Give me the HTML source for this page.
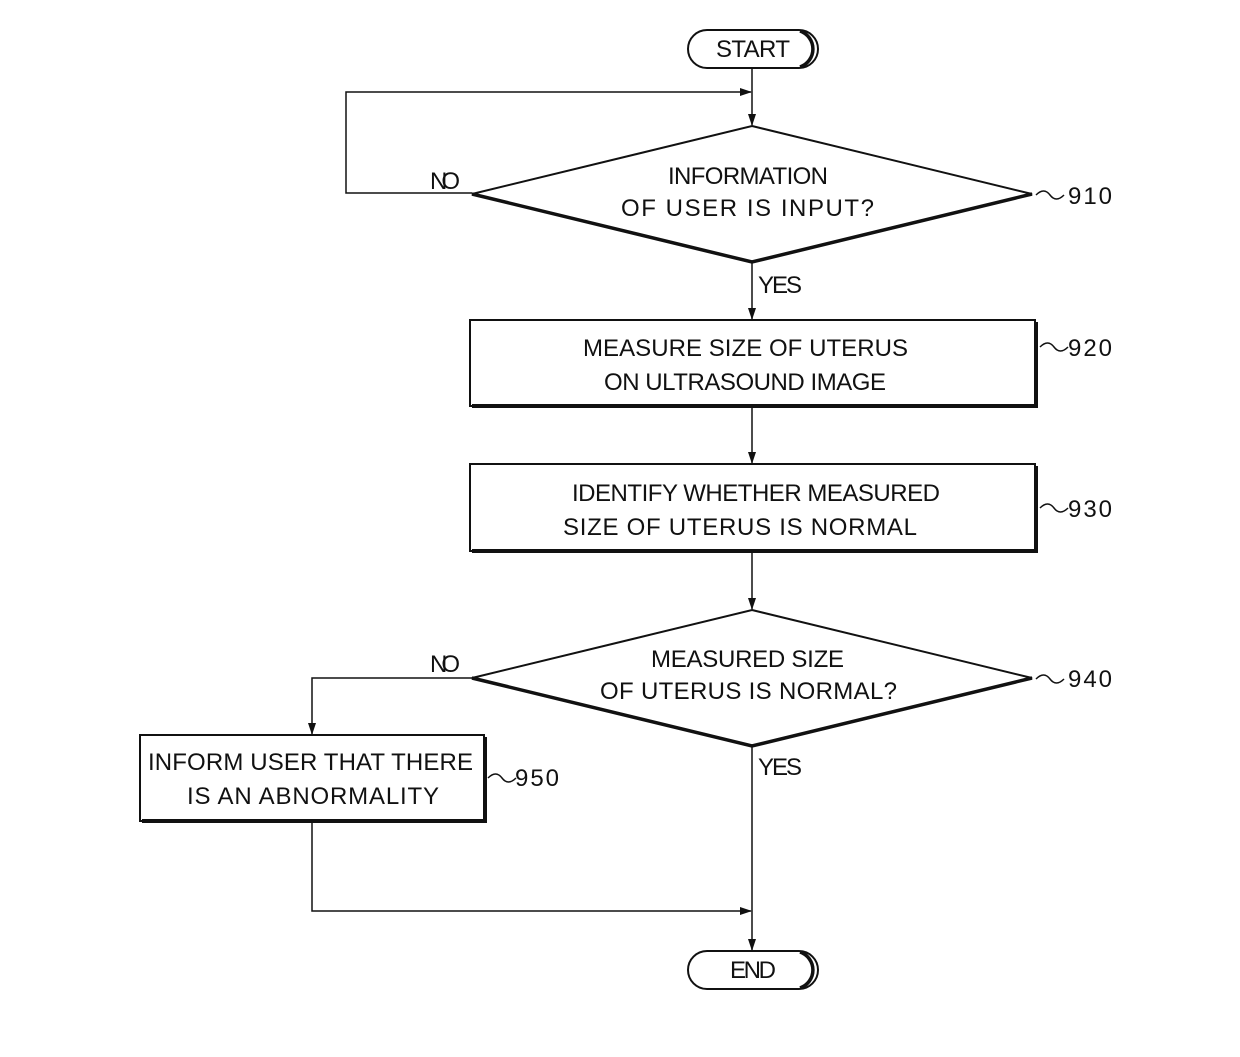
<!DOCTYPE html>
<html><head><meta charset="utf-8"><style>html,body{margin:0;padding:0;background:#fff}svg{display:block}text{font-family:"Liberation Sans",sans-serif;font-size:24px;fill:#111}</style></head>
<body>
<svg width="1240" height="1057" viewBox="0 0 1240 1057" xmlns="http://www.w3.org/2000/svg">
<defs><marker id="a" markerWidth="12" markerHeight="8" refX="11" refY="4" orient="auto" markerUnits="userSpaceOnUse"><path d="M0,0 L12,4 L0,8 z" fill="#111"/></marker></defs>
<g stroke="#111" fill="none" stroke-width="1.5">
<!-- START -->
<rect x="688" y="30" width="130" height="38" rx="19" stroke-width="2"/>
<path d="M800,31 A19,19 0 0 1 800,67" stroke-width="3.5"/>
<line x1="752" y1="68" x2="752" y2="125" marker-end="url(#a)"/>
<polyline points="472,193 346,193 346,92 751,92" marker-end="url(#a)"/>
<!-- diamond 910 -->
<polygon points="752,126 1032,194 752,262 472,194" stroke-width="2"/>
<path d="M472,194 L752,262 L1032,194" stroke-width="3.5"/>
<path d="M1036,195 q8,-8 14,0 t14,0"/>
<line x1="752" y1="262" x2="752" y2="319" marker-end="url(#a)"/>
<!-- box 920 -->
<rect x="470" y="320" width="565" height="86" stroke-width="2"/>
<path d="M472,406 L1036,406 L1036,322" stroke-width="4"/>
<path d="M1040,347 q8,-8 14,0 t14,0"/>
<line x1="752" y1="408" x2="752" y2="463" marker-end="url(#a)"/>
<!-- box 930 -->
<rect x="470" y="464" width="565" height="87" stroke-width="2"/>
<path d="M472,551 L1036,551 L1036,466" stroke-width="4"/>
<path d="M1040,508 q8,-8 14,0 t14,0"/>
<line x1="752" y1="553" x2="752" y2="609" marker-end="url(#a)"/>
<!-- diamond 940 -->
<polygon points="752,610 1032,678 752,746 472,678" stroke-width="2"/>
<path d="M472,678 L752,746 L1032,678" stroke-width="3.5"/>
<path d="M1036,679 q8,-8 14,0 t14,0"/>
<polyline points="472,678 312,678 312,734" marker-end="url(#a)"/>
<!-- box 950 -->
<rect x="140" y="735" width="344" height="86" stroke-width="2"/>
<path d="M142,821 L485,821 L485,737" stroke-width="4"/>
<path d="M488,778 q8,-8 14,0 t14,0"/>
<polyline points="312,823 312,911 751,911" marker-end="url(#a)"/>
<line x1="752" y1="746" x2="752" y2="950" marker-end="url(#a)"/>
<!-- END -->
<rect x="688" y="951" width="130" height="38" rx="19" stroke-width="2"/>
<path d="M800,952 A19,19 0 0 1 800,988" stroke-width="3.5"/>
</g>
<text x="753" y="57" text-anchor="middle" textLength="74">START</text>
<text x="753" y="978" text-anchor="middle" textLength="46">END</text>
<text x="430" y="189" textLength="30">NO</text>
<text x="668" y="184" textLength="160">INFORMATION</text>
<text x="621" y="216" textLength="253">OF USER IS INPUT?</text>
<text x="1068" y="204" textLength="44">910</text>
<text x="758" y="293" textLength="44">YES</text>
<text x="583" y="356" textLength="325">MEASURE SIZE OF UTERUS</text>
<text x="604" y="390" textLength="282">ON ULTRASOUND IMAGE</text>
<text x="1068" y="356" textLength="44">920</text>
<text x="572" y="501" textLength="368">IDENTIFY WHETHER MEASURED</text>
<text x="563" y="535" textLength="354">SIZE OF UTERUS IS NORMAL</text>
<text x="1068" y="517" textLength="44">930</text>
<text x="651" y="667" textLength="193">MEASURED SIZE</text>
<text x="600" y="699" textLength="297">OF UTERUS IS NORMAL?</text>
<text x="1068" y="687" textLength="44">940</text>
<text x="430" y="672" textLength="30">NO</text>
<text x="758" y="775" textLength="44">YES</text>
<text x="148" y="770" textLength="325">INFORM USER THAT THERE</text>
<text x="187" y="804" textLength="252">IS AN ABNORMALITY</text>
<text x="515" y="786" textLength="44">950</text>
</svg>
</body></html>
